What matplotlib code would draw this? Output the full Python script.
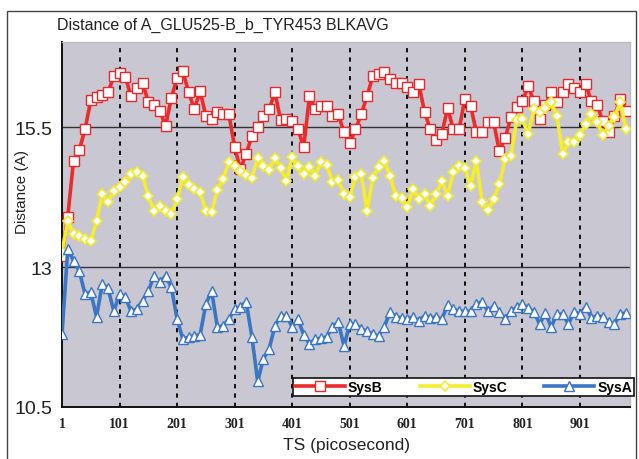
import numpy as np
import matplotlib
matplotlib.use("Agg")
import matplotlib.pyplot as plt
from matplotlib.patches import Rectangle

# Block-averaged distances, one value every 10 ps
sys_b = [13.2, 13.9, 14.9, 15.09, 15.46, 15.98, 16.04, 16.08, 16.12, 16.41,
         16.46, 16.4, 16.05, 16.2, 16.29, 15.95, 15.9, 15.79, 15.52, 16.02,
         16.38, 16.5, 16.12, 15.82, 16.14, 15.7, 15.64, 15.77, 15.73, 15.73,
         15.14, 14.75, 15.02, 15.34, 15.5, 15.7, 15.82, 16.12, 15.62, 15.64,
         15.6, 15.46, 15.14, 16.05, 15.82, 15.88, 15.88, 15.7, 15.73, 15.41,
         15.21, 15.46, 15.73, 16.05, 16.41, 16.45, 16.48, 16.36, 16.29, 16.29,
         16.21, 16.12, 16.27, 15.77, 15.46, 15.27, 15.38, 15.84, 15.46, 15.46,
         16.0, 15.88, 15.41, 15.41, 15.59, 15.59, 15.07, 15.3, 15.68, 15.85,
         15.96, 16.23, 15.96, 15.64, 15.9, 16.12, 15.95, 16.12, 16.27, 16.2,
         16.12, 16.27, 15.96, 15.89, 15.6, 15.41, 15.7, 16.0, 15.79]

sys_c = [13.27, 13.82, 13.59, 13.55, 13.5, 13.46, 13.82, 14.3, 14.16, 14.36,
         14.43, 14.52, 14.66, 14.7, 14.63, 14.27, 14.0, 14.09, 14.0, 13.95,
         14.21, 14.61, 14.46, 14.4, 14.34, 14.0, 13.98, 14.38, 14.57, 14.88,
         14.8, 14.71, 14.64, 14.59, 14.95, 14.8, 14.73, 14.95, 14.77, 14.54,
         14.96, 14.8, 14.66, 14.79, 14.63, 14.88, 14.82, 14.52, 14.55, 14.3,
         14.25, 14.61, 14.66, 14.0, 14.59, 14.79, 14.9, 14.63, 14.27, 14.23,
         14.07, 14.39, 14.21, 14.3, 14.09, 14.3, 14.54, 14.27, 14.7, 14.8,
         14.77, 14.45, 14.9, 14.16, 14.02, 14.21, 14.48, 14.93, 14.98, 15.62,
         15.64, 15.38, 15.82, 15.77, 15.84, 15.95, 15.7, 15.02, 15.23, 15.23,
         15.36, 15.55, 15.73, 15.59, 15.36, 15.52, 15.68, 15.95, 15.46]

sys_a = [11.8, 13.32, 13.11, 12.93, 12.52, 12.55, 12.11, 12.7, 12.62, 12.21,
         12.52, 12.46, 12.21, 12.25, 12.4, 12.57, 12.84, 12.73, 12.84, 12.64,
         12.07, 11.71, 11.75, 11.77, 11.79, 12.34, 12.57, 11.93, 11.95, 12.07,
         12.25, 12.29, 12.38, 11.75, 10.96, 11.36, 11.54, 11.95, 12.13, 12.13,
         11.93, 12.07, 11.79, 11.63, 11.71, 11.73, 11.75, 11.93, 12.02, 11.59,
         11.98, 11.98, 11.89, 11.86, 11.8, 11.77, 11.93, 12.2, 12.11, 12.09,
         12.07, 12.11, 12.04, 12.13, 12.09, 12.11, 12.07, 12.32, 12.25, 12.21,
         12.21, 12.21, 12.34, 12.38, 12.21, 12.3, 12.2, 12.07, 12.21, 12.28,
         12.34, 12.27, 12.2, 11.98, 12.18, 11.93, 12.16, 12.16, 11.98, 12.2,
         12.16, 12.29, 12.09, 12.13, 12.11, 12.02, 11.98, 12.16, 12.18]

ts = np.arange(1, 10 * len(sys_b) + 1, 10)

x_ticks = [1, 101, 201, 301, 401, 501, 601, 701, 801, 901]
y_ticks = [10.5, 13, 15.5]
y_tick_labels = ["10.5", "13", "15.5"]

SANS = "Liberation Sans"

fig = plt.figure(figsize=(6.39, 4.60), dpi=100)
fig.patch.set_facecolor("white")
ax = fig.add_axes([62 / 639, 1 - 408 / 460, 568 / 639, 365 / 460])
ax.set_facecolor("#c9c7d2")

ax.set_xlim(1, 988)
ax.set_ylim(10.5, 17.02)

# grid: dashed verticals, solid horizontals
for xv in x_ticks[1:]:
    ax.axvline(xv, color="#111111", lw=1.4, ls=(0, (2.2, 2.6)), zorder=1)
for yv in y_ticks[1:]:
    ax.axhline(yv, color="#333333", lw=1.0, zorder=1)

ax.plot(ts, sys_b, color="#ee2a2a", lw=2.6, marker="s", ms=6.5,
        mfc="white", mec="#e8282a", mew=1.0, label="SysB", zorder=3)
ax.plot(ts, sys_c, color="#f4ee2e", lw=2.6, marker="D", ms=5.0,
        mfc="white", mec="#f2ea30", mew=1.2, label="SysC", zorder=4)
ax.plot(ts, sys_a, color="#3a76c4", lw=2.6, marker="^", ms=7.5,
        mfc="white", mec="#3a76c4", mew=1.0, label="SysA", zorder=5)

ax.set_xticks(x_ticks)
ax.set_xticklabels([str(v) for v in x_ticks], family="Liberation Serif",
                   fontsize=10, fontweight="bold", color="#222222")
ax.set_yticks(y_ticks)
ax.set_yticklabels(y_tick_labels, family=SANS, fontsize=14, color="#222222")
ax.tick_params(axis="both", length=0)
ax.tick_params(axis="x", pad=7)
ax.tick_params(axis="y", pad=7)

for side in ("left", "bottom"):
    ax.spines[side].set_color("#111111")
    ax.spines[side].set_linewidth(1.4)
for side in ("top", "right"):
    ax.spines[side].set_color("#bdbbc4")
    ax.spines[side].set_linewidth(1.0)

leg = ax.legend(loc="lower left", bbox_to_anchor=(0.407, 0.030, 0.600, 0.049),
                mode="expand", ncol=3, borderaxespad=0, fancybox=False,
                framealpha=1, edgecolor="#111111", handlelength=3.6,
                handletextpad=0.2, borderpad=0.15, columnspacing=1.0,
                prop={"family": SANS, "weight": "bold", "size": 10})
leg.get_frame().set_linewidth(1.2)
leg.set_zorder(10)

fig.text(57 / 639, 1 - 25 / 460, "Distance of A_GLU525-B_b_TYR453 BLKAVG",
         family=SANS, fontsize=11.5, ha="left", va="center", color="#222222")
fig.text(22 / 639, 1 - 192 / 460, "Distance (A)", rotation=90, family=SANS,
         fontsize=11, ha="center", va="center", color="#222222")
fig.text(347 / 639, 1 - 446 / 460, "TS (picosecond)", family=SANS,
         fontsize=12.5, ha="center", va="center", color="#222222")

fig.patches.append(Rectangle((7 / 639, -0.02), 629 / 639, 1.02 - 12 / 460,
                             transform=fig.transFigure, fill=False,
                             edgecolor="#444444", lw=1.0))

fig.savefig("out.png", dpi=100)
